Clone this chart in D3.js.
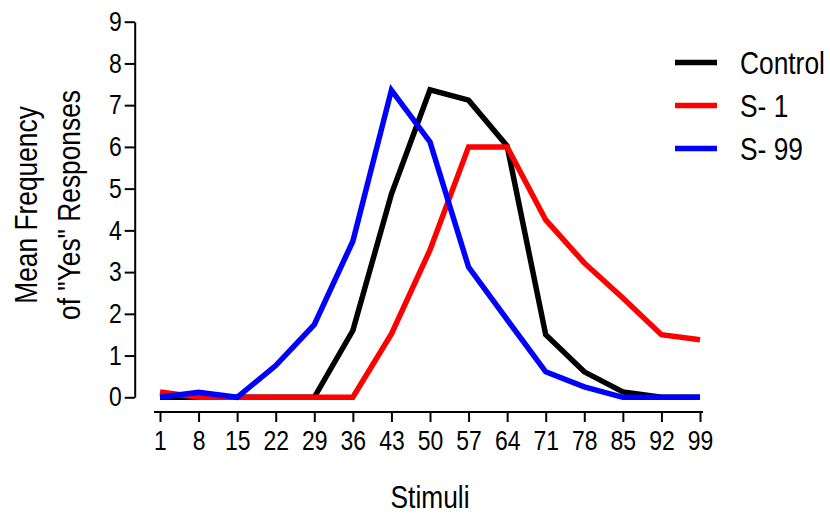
<!DOCTYPE html>
<html>
<head>
<meta charset="utf-8">
<script src="https://cdn.jsdelivr.net/npm/d3@7"></script>
<style>
  html, body { margin: 0; padding: 0; background: #fff; }
  svg { display: block; }
  text { font-family: "Liberation Sans", Arial, sans-serif; fill: #000; }
</style>
</head>
<body>
<svg id="chart" width="830" height="517"></svg>
<script>
const stimuli = [1, 8, 15, 22, 29, 36, 43, 50, 57, 64, 71, 78, 85, 92, 99];
const controlValues = [0, 0, 0, 0, 0, 1.6, 4.87, 7.37, 7.12, 6.02, 1.5, 0.61, 0.13, 0, 0];
const s1Values = [0.13, 0, 0, 0, 0, 0, 1.52, 3.53, 6.0, 6.0, 4.25, 3.22, 2.38, 1.5, 1.38];
const s99Values = [0, 0.12, 0, 0.76, 1.74, 3.74, 7.36, 6.12, 3.12, 1.86, 0.61, 0.25, 0, 0, 0];
const yTicks = [0, 1, 2, 3, 4, 5, 6, 7, 8, 9];
const seriesNames = ["Control", "S- 1", "S- 99"];
const seriesColors = ["#000000", "#ff0000", "#0000ff"];
const xTitle = "Stimuli";
const yTitleLines = ["Mean Frequency", "of \"Yes\" Responses"];

const SX = 0.85; // horizontal condensing of text (narrow font look)

const series = [controlValues, s1Values, s99Values].map((vals, i) => ({
  name: seriesNames[i], color: seriesColors[i],
  points: stimuli.map((s, j) => ({ x: s, y: vals[j] }))
}));

const svg = d3.select("#chart");
const x = d3.scaleLinear().domain([1, 99]).range([160, 700]);
const y = d3.scaleLinear().domain([0, 9]).range([397.3, 21.7]);

// Y axis
const yAxisX = 134.7;
const gy = svg.append("g").attr("transform", `translate(${yAxisX},0)`)
  .call(d3.axisLeft(y).tickValues(yTicks).tickSize(10).tickSizeOuter(0).tickPadding(3));
gy.select(".domain").attr("stroke", "#000").attr("stroke-width", 2);
gy.selectAll(".tick line").attr("stroke", "#000").attr("stroke-width", 2);
gy.selectAll(".tick text").attr("font-size", 27).attr("font-family", null).attr("fill", "#000")
  .each(function() {
    const t = d3.select(this);
    const tx = +t.attr("x");
    t.attr("x", 0).attr("transform", `translate(${tx},0) scale(${SX},1)`);
  });

// X axis
const xAxisY = 412;
const gx = svg.append("g").attr("transform", `translate(0,${xAxisY})`)
  .call(d3.axisBottom(x).tickValues(stimuli).tickFormat(d3.format("d")).tickSize(10).tickSizeOuter(0).tickPadding(9));
gx.select(".domain").attr("d", `M${x(1) - 6},0H${x(99) + 3}`).attr("stroke", "#000").attr("stroke-width", 2);
gx.selectAll(".tick line").attr("stroke", "#000").attr("stroke-width", 2);
gx.selectAll(".tick text").attr("font-size", 27).attr("font-family", null).attr("fill", "#000")
  .attr("transform", `scale(${SX},1)`);

// Lines
const line = d3.line().x(d => x(d.x)).y(d => y(d.y));
svg.append("g").selectAll("path").data(series).join("path")
  .attr("d", d => line(d.points))
  .attr("fill", "none")
  .attr("stroke", d => d.color)
  .attr("stroke-width", 5.5)
  .attr("stroke-linejoin", "miter");

// Axis titles
svg.append("text").attr("transform", `translate(${(x(1) + x(99)) / 2},508) scale(${SX},1)`)
  .attr("text-anchor", "middle").attr("font-size", 31).text(xTitle);

const yt = svg.append("text").attr("transform", `translate(37,205) rotate(-90) scale(${SX},1)`)
  .attr("text-anchor", "middle").attr("font-size", 31);
yTitleLines.forEach((t, i) => {
  yt.append("tspan").attr("x", 0).attr("y", i * 43).text(t);
});

// Legend
const legend = svg.append("g");
const legendY = d3.scalePoint().domain(seriesNames).range([62.5, 148.5]);
series.forEach(s => {
  legend.append("line").attr("x1", 675).attr("x2", 717)
    .attr("y1", legendY(s.name)).attr("y2", legendY(s.name))
    .attr("stroke", s.color).attr("stroke-width", 5.5);
  legend.append("text").attr("transform", `translate(740,${legendY(s.name) + 11.5}) scale(${SX},1)`)
    .attr("font-size", 31).text(s.name);
});
</script>
</body>
</html>
